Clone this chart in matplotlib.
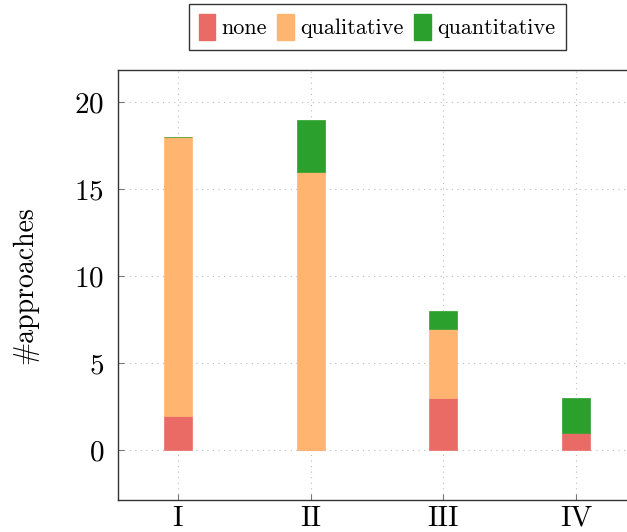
import numpy as np
import matplotlib
matplotlib.use("Agg")
from matplotlib import pyplot as plt
from matplotlib.patches import Patch

categories = ["I", "II", "III", "IV"]
none_vals = [2, 0, 3, 1]
qualitative_vals = [16, 16, 4, 0]
quantitative_vals = [0, 3, 1, 2]
series_labels = ["none", "qualitative", "quantitative"]
colors = ["#ea6b66", "#ffb570", "#2ca02c"]

plt.rcParams["font.family"] = ["cmr10", "DejaVu Serif"]
plt.rcParams["axes.formatter.use_mathtext"] = True
plt.rcParams["mathtext.fontset"] = "cm"

fig = plt.figure(figsize=(6.27, 5.32), dpi=100)
ax = fig.add_axes([118 / 627, 32 / 532, 518 / 627, 430 / 532])

x = np.arange(len(categories))
width = 0.21
bottom = np.zeros(len(categories))
for vals, col, lab in zip([none_vals, qualitative_vals, quantitative_vals], colors, series_labels):
    ax.bar(x, vals, width, bottom=bottom, color=col, edgecolor=col, linewidth=0.5,
           label=lab, zorder=3)
    bottom += np.array(vals)

ax.set_xlim(-0.45, 3.45)
ax.set_ylim(-2.85, 21.85)
ax.set_xticks(x)
ax.set_xticklabels(categories)
ax.set_yticks([0, 5, 10, 15, 20])
ax.tick_params(direction="in", length=4, color="#777777", labelsize=21, pad=10)
ax.tick_params(axis="x", labelsize=21, pad=4)
ax.grid(True, linestyle=(0, (1, 4)), color="#bbbbbb", linewidth=0.8, zorder=0)
for s in ax.spines.values():
    s.set_color("#333333")
    s.set_linewidth(1.0)
ax.set_ylabel("#approaches", fontsize=20, labelpad=26)

handles = [Patch(facecolor=c, edgecolor=c) for c in colors]
fig.legend(handles, series_labels, loc="upper center", bbox_to_anchor=(377 / 627, 1 - 4 / 532),
           ncol=3, fontsize=16, frameon=True, fancybox=False, edgecolor="black",
           handlelength=0.75, handleheight=1.4, handletextpad=0.3, columnspacing=0.45,
           borderpad=0.45, borderaxespad=0)

fig.savefig("out.png", dpi=100)
